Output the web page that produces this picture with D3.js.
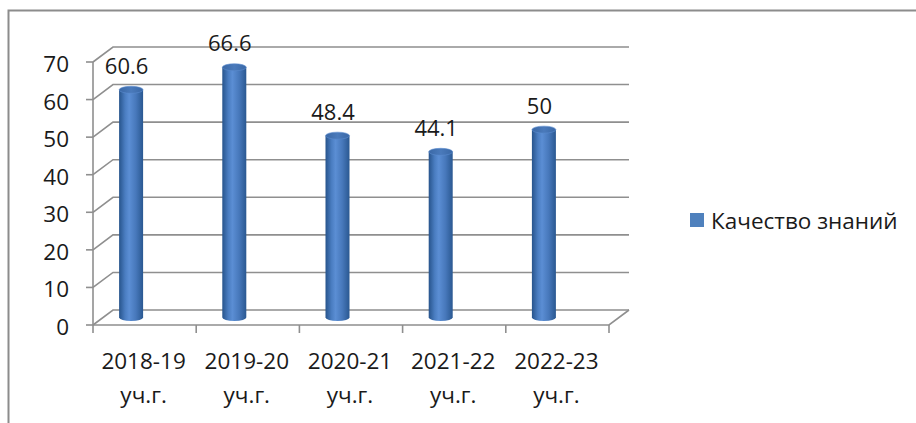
<!DOCTYPE html>
<html>
<head>
<meta charset="utf-8">
<script src="https://cdn.jsdelivr.net/npm/d3@7"></script>
<style>
  body { margin: 0; background: #fff; }
  text { font-family: "Open Sans", sans-serif; fill: #1a1a1a; }
</style>
</head>
<body>
<script>
var categories = ['2018-19 уч.г.', '2019-20 уч.г.', '2020-21 уч.г.', '2021-22 уч.г.', '2022-23 уч.г.'];
var values = [60.6, 66.6, 48.4, 44.1, 50];
var yTicks = [0, 10, 20, 30, 40, 50, 60, 70];
var seriesName = 'Качество знаний';

var W = 916, H = 423;
var dx = 20, dy = -15;   // depth of the 3d box
var fs = 22.5;

var svg = d3.select('body').append('svg')
  .attr('width', W)
  .attr('height', H);

// outer chart border (runs off the right and bottom)
svg.append('path')
  .attr('d', 'M8.5,' + (H + 5) + 'L8.5,10.5L' + (W + 5) + ',10.5')
  .attr('fill', 'none')
  .attr('stroke', '#8c8c8c')
  .attr('stroke-width', 2);

var x = d3.scaleBand().domain(categories).range([93, 609]);
var y = d3.scaleLinear().domain([0, 70]).range([325, 62]);

var grid = svg.append('g')
  .attr('stroke', '#8f8f8f')
  .attr('stroke-width', 1.6)
  .attr('fill', 'none');

// back wall lines + left wall diagonals
yTicks.forEach(function (v) {
  grid.append('path')
    .attr('d', 'M' + x.range()[0] + ',' + y(v) +
      'L' + (x.range()[0] + dx) + ',' + (y(v) + dy) +
      'L' + (x.range()[1] + dx) + ',' + (y(v) + dy));
  grid.append('line')
    .attr('x1', x.range()[0] - 7).attr('x2', x.range()[0])
    .attr('y1', y(v)).attr('y2', y(v));
});

// front vertical axis
grid.append('line')
  .attr('x1', x.range()[0]).attr('x2', x.range()[0])
  .attr('y1', y(70)).attr('y2', y(0));

// floor front edge and right side
grid.append('path')
  .attr('d', 'M' + x.range()[0] + ',' + y(0) +
    'L' + x.range()[1] + ',' + y(0) +
    'L' + (x.range()[1] + dx) + ',' + (y(0) + dy));

// category ticks
categories.concat([null]).forEach(function (c) {
  var px = c ? x(c) : x.range()[1];
  grid.append('line')
    .attr('x1', px).attr('x2', px)
    .attr('y1', y(0)).attr('y2', y(0) + 8);
});

// y tick labels
svg.append('g').selectAll('text')
  .data(yTicks)
  .enter().append('text')
  .attr('x', 69)
  .attr('y', function (d) { return y(d) + 10; })
  .attr('text-anchor', 'end')
  .attr('font-size', fs)
  .text(function (d) { return d; });

// category labels, two lines
var cat = svg.append('g').selectAll('text')
  .data(categories)
  .enter().append('text')
  .attr('text-anchor', 'middle')
  .attr('font-size', fs);
cat.each(function (d) {
  var parts = d.split(' ');
  var cx = x(d) + x.bandwidth() / 2 - 1;
  d3.select(this).append('tspan').attr('x', cx).attr('y', 369).text(parts[0]);
  d3.select(this).append('tspan').attr('x', cx).attr('y', 403).text(parts[1]);
});

// cylinders
var defs = svg.append('defs');
var grad = defs.append('linearGradient').attr('id', 'cyl');
[[0, '#27548c'], [0.25, '#4a7dc1'], [0.42, '#5b8ed4'], [0.7, '#4778bb'], [1, '#2a5891']].forEach(function (s) {
  grad.append('stop').attr('offset', s[0]).attr('stop-color', s[1]);
});
var gradTop = defs.append('linearGradient').attr('id', 'cylTop');
[[0, '#3a68a6'], [0.5, '#4a7abb'], [1, '#3a68a6']].forEach(function (s) {
  gradTop.append('stop').attr('offset', s[0]).attr('stop-color', s[1]);
});

var rx = 12, ry = 3.5;
var base = y(0) + dy / 2;
var yBar = function (v) { return base - (y(0) - y(v)); };
var barX = function (i) { return x(categories[i]) + x.bandwidth() / 2 - 13.5; };

var bars = svg.append('g').selectAll('g')
  .data(values)
  .enter().append('g');

bars.append('path')
  .attr('fill', 'url(#cyl)')
  .attr('d', function (d, i) {
    var cx = barX(i);
    var t = yBar(d);
    return 'M' + (cx - rx) + ',' + t +
      'L' + (cx - rx) + ',' + base +
      'A' + rx + ',' + ry + ' 0 0 0 ' + (cx + rx) + ',' + base +
      'L' + (cx + rx) + ',' + t + 'Z';
  });

bars.append('ellipse')
  .attr('fill', 'url(#cylTop)')
  .attr('stroke', '#5a8ccf')
  .attr('stroke-width', 0.6)
  .attr('cx', function (d, i) { return barX(i); })
  .attr('cy', function (d) { return yBar(d); })
  .attr('rx', rx)
  .attr('ry', ry);

bars.append('text')
  .attr('text-anchor', 'middle')
  .attr('font-size', 22)
  .attr('x', function (d, i) { return barX(i) - 4.5; })
  .attr('y', function (d) { return yBar(d) - 16; })
  .text(function (d) { return d; });

// legend
var legend = svg.append('g');
legend.append('rect')
  .attr('x', 690).attr('y', 213)
  .attr('width', 14).attr('height', 14)
  .attr('fill', '#4f81bd');
legend.append('text')
  .attr('x', 711).attr('y', 229)
  .attr('font-size', fs)
  .text(seriesName);
</script>
</body>
</html>
